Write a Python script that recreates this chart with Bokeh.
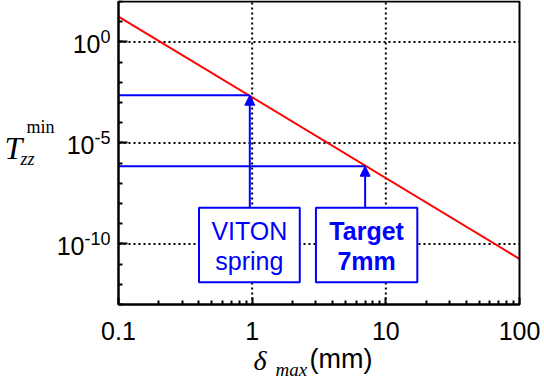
import math
from bokeh.plotting import figure
from bokeh.models import (FixedTicker, Label, Arrow, NormalHead, CustomJSTickFormatter)
from bokeh.embed import file_html
from bokeh.resources import INLINE

# ---- data ----
LINE_DELTA = [0.1, 100.0]          # delta_max (mm)
LINE_T = [18.0, 1.8e-11]           # T_zz^min along the red line

MARK_DELTA = [0.96, 7.0]           # VITON spring, Target 7mm
MARK_T = [2.3e-3, 7.0e-7]
MARK_NAMES = [("VITON", "spring"), ("Target", "7mm")]
MARK_BOLD = ["normal", "bold"]

X_TICKS = [0.1, 1, 10, 100]
X_MINOR = [0.2, 0.3, 0.4, 0.5, 0.6, 0.7, 0.8, 0.9,
           2, 3, 4, 5, 6, 7, 8, 9,
           20, 30, 40, 50, 60, 70, 80, 90]
X_GRID = [1, 10]
Y_TICKS = [1e0, 1e-5, 1e-10]
Y_MINOR = [10.0 ** k for k in range(-13, 3)]

XB = (0.1, 100)      # axis extent, delta_max
YB = (1e-13, 1e2)    # axis extent, T

# annotation boxes (data coordinates)
BOX_LEFT = [0.40, 3.0]
BOX_RIGHT = [2.27, 17.2]
BOX_TOP = 6.2e-9
BOX_BOTTOM = 1.27e-12

BLUE = "#0000FF"
RED = "#FF0000"
SANS = "Liberation Sans"
SERIF = "Liberation Serif"

# where the axis box sits on the 544x381 canvas (pixels)
W, H = 544, 381
B_LEFT, B_RIGHT, B_TOP, B_BOTTOM = 118, 519, 1, 304
dx = (B_RIGHT - B_LEFT) / (math.log10(XB[1]) - math.log10(XB[0]))
dy = (B_BOTTOM - B_TOP) / (math.log10(YB[1]) - math.log10(YB[0]))
XR = (XB[0] / 10 ** (B_LEFT / dx), XB[1] * 10 ** ((W - B_RIGHT) / dx))
YR = (YB[0] / 10 ** ((H - B_BOTTOM) / dy), YB[1] * 10 ** (B_TOP / dy))

# Bokeh draws an "alphabetic" label a little below the anchor; compensate
LIFT = 0.3

p = figure(width=W, height=H, x_axis_type="log", y_axis_type="log",
           x_range=XR, y_range=YR,
           output_backend="svg", toolbar_location=None,
           min_border_left=0, min_border_right=0, min_border_top=0, min_border_bottom=0)
p.background_fill_color = "white"
p.border_fill_color = "white"
p.outline_line_color = None
p.xgrid.visible = False
p.ygrid.visible = False

# axes pinned to the box edges
p.xaxis.fixed_location = YB[0]
p.xaxis.bounds = XB
p.xaxis.ticker = FixedTicker(ticks=X_TICKS, minor_ticks=X_MINOR)
p.xaxis.formatter = CustomJSTickFormatter(code="return tick < 1 ? tick.toFixed(1) : tick.toFixed(0);")
p.xaxis.major_label_text_font = SANS
p.xaxis.major_label_text_font_size = "25px"
p.xaxis.major_label_text_color = "black"
p.xaxis.major_label_standoff = 17
p.yaxis.fixed_location = XB[0]
p.yaxis.bounds = YB
p.yaxis.ticker = FixedTicker(ticks=Y_TICKS, minor_ticks=Y_MINOR)
p.yaxis.formatter = CustomJSTickFormatter(code='return "";')
p.yaxis.major_label_standoff = 0
for ax, mj in ((p.xaxis, 7), (p.yaxis, 9)):
    ax.axis_line_width = 2
    ax.axis_line_color = "black"
    ax.major_tick_in = mj
    ax.major_tick_out = 0
    ax.minor_tick_in = 4
    ax.minor_tick_out = 0
    ax.major_tick_line_width = 2
    ax.minor_tick_line_width = 2
    ax.major_tick_line_color = "black"
    ax.minor_tick_line_color = "black"

# dotted grid inside the box
p.segment(x0=X_GRID, x1=X_GRID, y0=[YB[0]] * len(X_GRID), y1=[YB[1]] * len(X_GRID),
          line_color="black", line_width=2, line_dash="2 3")
p.segment(x0=[XB[0]] * len(Y_TICKS), x1=[XB[1]] * len(Y_TICKS), y0=Y_TICKS, y1=Y_TICKS,
          line_color="black", line_width=2, line_dash="2 3")

# red line
p.line(LINE_DELTA, LINE_T, line_color=RED, line_width=2)

# blue guide lines from the axis
for d, t in zip(MARK_DELTA, MARK_T):
    p.line([XB[0], d], [t, t], line_color=BLUE, line_width=2)

# boxes
p.quad(left=BOX_LEFT, right=BOX_RIGHT, top=[BOX_TOP] * 2, bottom=[BOX_BOTTOM] * 2,
       fill_color="white", line_color=BLUE, line_width=2)

# arrows
for d, t in zip(MARK_DELTA, MARK_T):
    p.add_layout(Arrow(x_start=d, y_start=BOX_TOP, x_end=d, y_end=t,
                       line_color=BLUE, line_width=2,
                       end=NormalHead(size=10, fill_color=BLUE, line_color=BLUE, line_width=1)))


def label(x, y, dxp, dyp, text, font, size, style="normal", align="left", color="black"):
    """Text whose baseline sits dyp pixels above (x, y); dxp pixels to the right."""
    p.add_layout(Label(x=x, y=y, x_offset=dxp, y_offset=dyp + LIFT * size, text=text,
                       text_align=align, text_baseline="alphabetic",
                       text_font=font, text_font_size=f"{size}px",
                       text_font_style=style, text_color=color))


# box texts
for (l1, l2), bold, lft, rgt in zip(MARK_NAMES, MARK_BOLD, BOX_LEFT, BOX_RIGHT):
    cx = (lft * rgt) ** 0.5
    label(cx, BOX_TOP, 0, -31, l1, SANS, 25, bold, "center", BLUE)
    label(cx, BOX_TOP, 0, -61, l2, SANS, 25, bold, "center", BLUE)

# outer box
p.quad(left=[XB[0]], right=[XB[1]], bottom=[YB[0]], top=[YB[1]],
       fill_color=None, line_color="black", line_width=2)

# y tick labels: "10" with a raised exponent
SUP = 18
for t in Y_TICKS:
    e = str(round(math.log10(t)))
    w = SUP * (0.556 * len(e.lstrip("-")) + (0.333 if e.startswith("-") else 0))
    label(XB[0], t, -8, -0.4, e, SANS, SUP, align="right")
    label(XB[0], t, -8 - w, -9.4, "10", SANS, 25, align="right")

# axis titles: (text, font, size, style, left x, baseline y) in canvas pixels
TITLE_PARTS = [
    ("T", SERIF, 32, "italic", 4, 157),
    ("min", SERIF, 18, "normal", 26, 132),
    ("zz", SERIF, 18, "italic", 20, 164),
    ("δ", SERIF, 28, "italic", 253, 368),
    ("max", SERIF, 19, "italic", 275, 375),
    ("(mm)", SANS, 27, "normal", 309, 367),
]
for txt, font, size, style, x0, base in TITLE_PARTS:
    label(XB[0], YB[0], x0 - B_LEFT, B_BOTTOM - base, txt, font, size, style)

open("out.html", "w").write(file_html(p, INLINE))
